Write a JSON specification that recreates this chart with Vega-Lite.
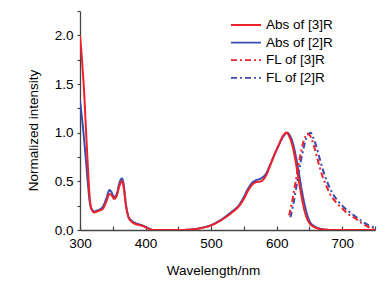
{
  "$schema": "https://vega.github.io/schema/vega-lite/v6.json",
  "autosize": "none",
  "width": 295,
  "height": 219,
  "padding": {"left": 80, "top": 11, "right": 15, "bottom": 54},
  "background": "white",
  "config": {
    "view": {"stroke": null},
    "font": "Liberation Sans",
    "axis": {"grid": false, "domainColor": "#444", "tickColor": "#444", "domainWidth": 1.3, "tickWidth": 1.2, "labelFont": "Liberation Sans", "labelFontSize": 13.5, "labelColor": "#000", "labelOverlap": false, "labelFlush": false, "labelBound": false, "titleFont": "Liberation Sans", "titleFontSize": 13.5, "titleFontWeight": "normal", "titleColor": "#000"},
    "legend": {"labelFont": "Liberation Sans", "labelFontSize": 13.5, "labelColor": "#000"}
  },
  "data": {"values": [
    {"s":"Abs of [2]R","w":300,"v":1.33},{"s":"Abs of [2]R","w":303,"v":1.15},{"s":"Abs of [2]R","w":306,"v":0.95},{"s":"Abs of [2]R","w":309,"v":0.72},{"s":"Abs of [2]R","w":312,"v":0.48},{"s":"Abs of [2]R","w":315,"v":0.28},{"s":"Abs of [2]R","w":318,"v":0.21},{"s":"Abs of [2]R","w":322,"v":0.19},{"s":"Abs of [2]R","w":326,"v":0.2},{"s":"Abs of [2]R","w":330,"v":0.21},{"s":"Abs of [2]R","w":335,"v":0.24},{"s":"Abs of [2]R","w":340,"v":0.32},{"s":"Abs of [2]R","w":345,"v":0.41},{"s":"Abs of [2]R","w":348,"v":0.39},{"s":"Abs of [2]R","w":352,"v":0.34},{"s":"Abs of [2]R","w":356,"v":0.37},{"s":"Abs of [2]R","w":360,"v":0.48},{"s":"Abs of [2]R","w":364,"v":0.53},{"s":"Abs of [2]R","w":367,"v":0.45},{"s":"Abs of [2]R","w":370,"v":0.27},{"s":"Abs of [2]R","w":374,"v":0.14},{"s":"Abs of [2]R","w":378,"v":0.1},{"s":"Abs of [2]R","w":385,"v":0.07},{"s":"Abs of [2]R","w":392,"v":0.055},{"s":"Abs of [2]R","w":398,"v":0.04},{"s":"Abs of [2]R","w":405,"v":0.015},{"s":"Abs of [2]R","w":412,"v":0.0},{"s":"Abs of [2]R","w":450,"v":0.0},{"s":"Abs of [2]R","w":470,"v":0.006},{"s":"Abs of [2]R","w":485,"v":0.022},{"s":"Abs of [2]R","w":500,"v":0.05},{"s":"Abs of [2]R","w":515,"v":0.105},{"s":"Abs of [2]R","w":530,"v":0.18},{"s":"Abs of [2]R","w":543,"v":0.26},{"s":"Abs of [2]R","w":550,"v":0.34},{"s":"Abs of [2]R","w":556,"v":0.42},{"s":"Abs of [2]R","w":562,"v":0.48},{"s":"Abs of [2]R","w":568,"v":0.51},{"s":"Abs of [2]R","w":576,"v":0.53},{"s":"Abs of [2]R","w":583,"v":0.57},{"s":"Abs of [2]R","w":590,"v":0.67},{"s":"Abs of [2]R","w":597,"v":0.78},{"s":"Abs of [2]R","w":603,"v":0.87},{"s":"Abs of [2]R","w":610,"v":0.96},{"s":"Abs of [2]R","w":616,"v":1.0},{"s":"Abs of [2]R","w":621,"v":0.96},{"s":"Abs of [2]R","w":626,"v":0.86},{"s":"Abs of [2]R","w":630,"v":0.73},{"s":"Abs of [2]R","w":634,"v":0.58},{"s":"Abs of [2]R","w":638,"v":0.42},{"s":"Abs of [2]R","w":642,"v":0.28},{"s":"Abs of [2]R","w":646,"v":0.17},{"s":"Abs of [2]R","w":651,"v":0.08},{"s":"Abs of [2]R","w":657,"v":0.04},{"s":"Abs of [2]R","w":664,"v":0.017},{"s":"Abs of [2]R","w":673,"v":0.006},{"s":"Abs of [2]R","w":686,"v":0.0},{"s":"Abs of [2]R","w":750,"v":0.0},
    {"s":"FL of [2]R","w":621,"v":0.13},{"s":"FL of [2]R","w":625,"v":0.25},{"s":"FL of [2]R","w":629,"v":0.4},{"s":"FL of [2]R","w":633,"v":0.56},{"s":"FL of [2]R","w":637,"v":0.71},{"s":"FL of [2]R","w":641,"v":0.84},{"s":"FL of [2]R","w":645,"v":0.94},{"s":"FL of [2]R","w":649,"v":0.99},{"s":"FL of [2]R","w":652,"v":1.0},{"s":"FL of [2]R","w":655,"v":0.96},{"s":"FL of [2]R","w":659,"v":0.89},{"s":"FL of [2]R","w":663,"v":0.8},{"s":"FL of [2]R","w":667,"v":0.7},{"s":"FL of [2]R","w":672,"v":0.59},{"s":"FL of [2]R","w":678,"v":0.48},{"s":"FL of [2]R","w":685,"v":0.38},{"s":"FL of [2]R","w":692,"v":0.31},{"s":"FL of [2]R","w":700,"v":0.25},{"s":"FL of [2]R","w":710,"v":0.19},{"s":"FL of [2]R","w":720,"v":0.14},{"s":"FL of [2]R","w":730,"v":0.09},{"s":"FL of [2]R","w":740,"v":0.05},{"s":"FL of [2]R","w":750,"v":0.02},
    {"s":"Abs of [3]R","w":300,"v":2.0},{"s":"Abs of [3]R","w":303,"v":1.75},{"s":"Abs of [3]R","w":306,"v":1.45},{"s":"Abs of [3]R","w":309,"v":1.05},{"s":"Abs of [3]R","w":312,"v":0.65},{"s":"Abs of [3]R","w":315,"v":0.32},{"s":"Abs of [3]R","w":318,"v":0.21},{"s":"Abs of [3]R","w":322,"v":0.18},{"s":"Abs of [3]R","w":326,"v":0.19},{"s":"Abs of [3]R","w":330,"v":0.2},{"s":"Abs of [3]R","w":335,"v":0.22},{"s":"Abs of [3]R","w":340,"v":0.29},{"s":"Abs of [3]R","w":345,"v":0.37},{"s":"Abs of [3]R","w":348,"v":0.36},{"s":"Abs of [3]R","w":352,"v":0.32},{"s":"Abs of [3]R","w":356,"v":0.35},{"s":"Abs of [3]R","w":360,"v":0.45},{"s":"Abs of [3]R","w":364,"v":0.5},{"s":"Abs of [3]R","w":367,"v":0.42},{"s":"Abs of [3]R","w":370,"v":0.25},{"s":"Abs of [3]R","w":374,"v":0.13},{"s":"Abs of [3]R","w":378,"v":0.09},{"s":"Abs of [3]R","w":385,"v":0.06},{"s":"Abs of [3]R","w":392,"v":0.05},{"s":"Abs of [3]R","w":398,"v":0.035},{"s":"Abs of [3]R","w":405,"v":0.012},{"s":"Abs of [3]R","w":412,"v":0.0},{"s":"Abs of [3]R","w":450,"v":0.0},{"s":"Abs of [3]R","w":470,"v":0.005},{"s":"Abs of [3]R","w":485,"v":0.02},{"s":"Abs of [3]R","w":500,"v":0.048},{"s":"Abs of [3]R","w":515,"v":0.1},{"s":"Abs of [3]R","w":530,"v":0.17},{"s":"Abs of [3]R","w":543,"v":0.25},{"s":"Abs of [3]R","w":550,"v":0.32},{"s":"Abs of [3]R","w":556,"v":0.4},{"s":"Abs of [3]R","w":562,"v":0.46},{"s":"Abs of [3]R","w":568,"v":0.49},{"s":"Abs of [3]R","w":576,"v":0.5},{"s":"Abs of [3]R","w":583,"v":0.55},{"s":"Abs of [3]R","w":590,"v":0.66},{"s":"Abs of [3]R","w":597,"v":0.78},{"s":"Abs of [3]R","w":603,"v":0.87},{"s":"Abs of [3]R","w":609,"v":0.96},{"s":"Abs of [3]R","w":615,"v":1.0},{"s":"Abs of [3]R","w":620,"v":0.95},{"s":"Abs of [3]R","w":625,"v":0.84},{"s":"Abs of [3]R","w":629,"v":0.7},{"s":"Abs of [3]R","w":633,"v":0.54},{"s":"Abs of [3]R","w":637,"v":0.38},{"s":"Abs of [3]R","w":641,"v":0.24},{"s":"Abs of [3]R","w":645,"v":0.14},{"s":"Abs of [3]R","w":650,"v":0.07},{"s":"Abs of [3]R","w":656,"v":0.035},{"s":"Abs of [3]R","w":663,"v":0.015},{"s":"Abs of [3]R","w":672,"v":0.005},{"s":"Abs of [3]R","w":685,"v":0.0},{"s":"Abs of [3]R","w":750,"v":0.0},
    {"s":"FL of [3]R","w":619,"v":0.15},{"s":"FL of [3]R","w":623,"v":0.27},{"s":"FL of [3]R","w":627,"v":0.42},{"s":"FL of [3]R","w":631,"v":0.58},{"s":"FL of [3]R","w":635,"v":0.73},{"s":"FL of [3]R","w":639,"v":0.86},{"s":"FL of [3]R","w":643,"v":0.95},{"s":"FL of [3]R","w":647,"v":0.99},{"s":"FL of [3]R","w":650,"v":0.98},{"s":"FL of [3]R","w":653,"v":0.94},{"s":"FL of [3]R","w":657,"v":0.86},{"s":"FL of [3]R","w":661,"v":0.76},{"s":"FL of [3]R","w":665,"v":0.66},{"s":"FL of [3]R","w":670,"v":0.55},{"s":"FL of [3]R","w":676,"v":0.45},{"s":"FL of [3]R","w":683,"v":0.35},{"s":"FL of [3]R","w":690,"v":0.29},{"s":"FL of [3]R","w":700,"v":0.22},{"s":"FL of [3]R","w":710,"v":0.16},{"s":"FL of [3]R","w":720,"v":0.12},{"s":"FL of [3]R","w":730,"v":0.07},{"s":"FL of [3]R","w":740,"v":0.03},{"s":"FL of [3]R","w":748,"v":0.005}
  ]},
  "encoding": {
    "x": {"field": "w", "type": "quantitative", "scale": {"domain": [300, 750], "nice": false, "zero": false},
      "axis": {"title": "Wavelength/nm", "values": [300,350,400,450,500,550,600,650,700,750], "labelExpr": "datum.value % 100 == 0 ? datum.label : ''", "tickSize": -4, "labelPadding": 10, "titleX": 133, "titleY": 40, "titleBaseline": "middle", "titleAlign": "center"}},
    "y": {"field": "v", "type": "quantitative", "scale": {"domain": [0, 2.25], "nice": false},
      "axis": {"title": "Normalized intensity", "values": [0,0.25,0.5,0.75,1,1.25,1.5,1.75,2,2.25], "labelExpr": "(datum.value * 2) % 1 == 0 ? format(datum.value, '.1f') : ''", "tickSize": 3, "labelPadding": 4, "titleX": -47, "titleY": 119, "titleBaseline": "middle", "titleAlign": "center", "titleAngle": -90}},
    "color": {"field": "s", "type": "nominal",
      "scale": {"domain": ["Abs of [3]R", "Abs of [2]R", "FL of [3]R", "FL of [2]R"], "range": ["#ee2228", "#3b4cb2", "#ee2228", "#3b4cb2"]},
      "legend": {"title": null, "orient": "none", "legendX": 150, "legendY": 6, "symbolType": "stroke", "symbolSize": 900, "symbolStrokeWidth": 1.8, "labelOffset": 4, "clipHeight": 16, "rowPadding": 1.6, "padding": 0}},
    "strokeDash": {"field": "s", "type": "nominal",
      "scale": {"domain": ["Abs of [3]R", "Abs of [2]R", "FL of [3]R", "FL of [2]R"], "range": [[1,0],[1,0],[6,3,2,3],[6,3,2,3]]},
      "legend": {"title": null, "orient": "none", "legendX": 150, "legendY": 6, "symbolType": "stroke", "symbolSize": 900, "symbolStrokeWidth": 1.8, "labelOffset": 4, "clipHeight": 16, "rowPadding": 1.6, "padding": 0}}
  },
  "layer": [
    {"transform": [{"filter": "indexof(datum.s, '[2]') >= 0"}], "mark": {"type": "line", "interpolate": "monotone", "strokeWidth": 2, "clip": true}},
    {"transform": [{"filter": "indexof(datum.s, '[3]') >= 0"}], "mark": {"type": "line", "interpolate": "monotone", "strokeWidth": 2, "clip": true}}
  ]
}
